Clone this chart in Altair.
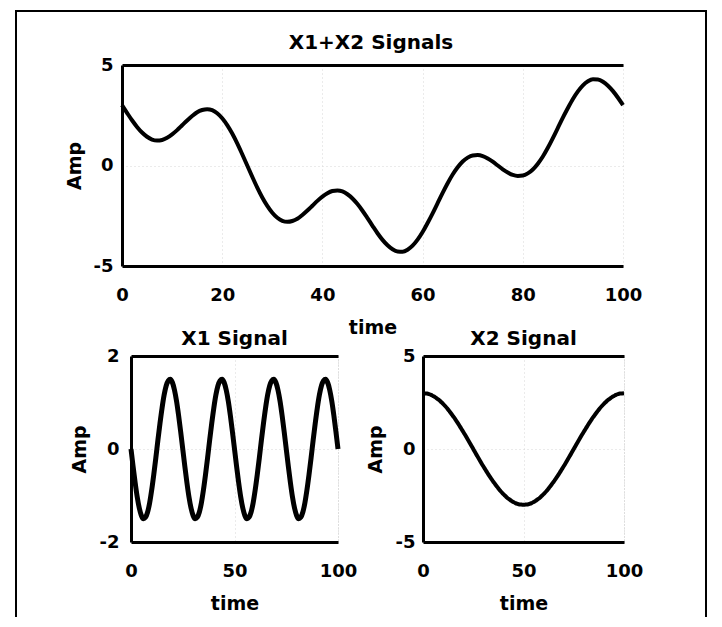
import altair as alt
import pandas as pd

# ---- data ----
time = list(range(101))

x1_signal = [
    0.00, -0.37, -0.72, -1.03, -1.27, -1.43, -1.50, -1.47, -1.36, -1.16, -0.88, -0.55, -0.19,
    0.19, 0.55, 0.88, 1.16, 1.36, 1.47, 1.50, 1.43, 1.27, 1.03, 0.72, 0.37,
    0.00, -0.37, -0.72, -1.03, -1.27, -1.43, -1.50, -1.47, -1.36, -1.16, -0.88, -0.55, -0.19,
    0.19, 0.55, 0.88, 1.16, 1.36, 1.47, 1.50, 1.43, 1.27, 1.03, 0.72, 0.37,
    0.00, -0.37, -0.72, -1.03, -1.27, -1.43, -1.50, -1.47, -1.36, -1.16, -0.88, -0.55, -0.19,
    0.19, 0.55, 0.88, 1.16, 1.36, 1.47, 1.50, 1.43, 1.27, 1.03, 0.72, 0.37,
    0.00, -0.37, -0.72, -1.03, -1.27, -1.43, -1.50, -1.47, -1.36, -1.16, -0.88, -0.55, -0.19,
    0.19, 0.55, 0.88, 1.16, 1.36, 1.47, 1.50, 1.43, 1.27, 1.03, 0.72, 0.37,
    0.00,
]

x2_signal = [
    3.00, 2.99, 2.98, 2.95, 2.91, 2.85, 2.79, 2.71, 2.63, 2.53, 2.43, 2.31, 2.19, 2.05, 1.91,
    1.76, 1.61, 1.45, 1.28, 1.10, 0.93, 0.75, 0.56, 0.38, 0.19, 0.00,
    -0.19, -0.38, -0.56, -0.75, -0.93, -1.10, -1.28, -1.45, -1.61, -1.76, -1.91, -2.05, -2.19,
    -2.31, -2.43, -2.53, -2.63, -2.71, -2.79, -2.85, -2.91, -2.95, -2.98, -2.99, -3.00,
    -2.99, -2.98, -2.95, -2.91, -2.85, -2.79, -2.71, -2.63, -2.53, -2.43, -2.31, -2.19, -2.05,
    -1.91, -1.76, -1.61, -1.45, -1.28, -1.10, -0.93, -0.75, -0.56, -0.38, -0.19, 0.00,
    0.19, 0.38, 0.56, 0.75, 0.93, 1.10, 1.28, 1.45, 1.61, 1.76, 1.91, 2.05, 2.19, 2.31, 2.43,
    2.53, 2.63, 2.71, 2.79, 2.85, 2.91, 2.95, 2.98, 2.99, 3.00,
]

sum_signal = [
    3.00, 2.62, 2.25, 1.92, 1.64, 1.43, 1.29, 1.24, 1.27, 1.38, 1.55, 1.76, 2.00, 2.24, 2.46,
    2.65, 2.76, 2.80, 2.75, 2.60, 2.35, 2.01, 1.59, 1.10, 0.56, 0.00,
    -0.56, -1.10, -1.59, -2.01, -2.35, -2.60, -2.75, -2.80, -2.76, -2.65, -2.46, -2.24, -2.00,
    -1.76, -1.55, -1.38, -1.27, -1.24, -1.29, -1.43, -1.64, -1.92, -2.25, -2.62, -3.00,
    -3.37, -3.70, -3.97, -4.17, -4.28, -4.29, -4.19, -3.99, -3.69, -3.31, -2.86, -2.38, -1.87,
    -1.36, -0.88, -0.45, -0.09, 0.20, 0.39, 0.50, 0.52, 0.47, 0.35, 0.19, 0.00,
    -0.19, -0.35, -0.47, -0.52, -0.50, -0.39, -0.20, 0.09, 0.45, 0.88, 1.36, 1.87, 2.38, 2.86,
    3.31, 3.69, 3.99, 4.19, 4.29, 4.28, 4.17, 3.97, 3.70, 3.37, 3.00,
]

titles = ["X1+X2 Signals", "X1 Signal", "X2 Signal"]
x_ticks_top = [0, 20, 40, 60, 80, 100]
x_ticks_bottom = [0, 50, 100]
y_ticks_sum = [-5, 0, 5]
y_ticks_x1 = [-2, 0, 2]
y_ticks_x2 = [-5, 0, 5]

FONT = "DejaVu Sans"
LABEL = "replace(datum.label, '\u2212', '-')"


def panel(values, title, ydom, yticks, xticks, w, h, sw,
          xrange=None, yoffset=0, title_dx=0, title_offset=1,
          ylabel_pad=9, ytitle_pad=6):
    df = pd.DataFrame({"time": time, "amp": values})
    if xrange is None:
        sx = alt.Scale(domain=[0, 100], nice=False, zero=False)
    else:
        sx = alt.Scale(domain=[0, 100], nice=False, zero=False, range=xrange)
    sy = alt.Scale(domain=ydom, nice=False, zero=False)
    yenc = alt.Y("amp:Q", scale=sy,
                 axis=alt.Axis(values=yticks, title="Amp", offset=yoffset, labelExpr=LABEL,
                               labelPadding=ylabel_pad, titlePadding=ytitle_pad))
    line = alt.Chart(df).mark_line(
        color="black", strokeWidth=sw, interpolate="monotone", clip=False
    ).encode(
        x=alt.X("time:Q", scale=sx, axis=alt.Axis(values=xticks, title="time", labelExpr=LABEL)),
        y=yenc,
    )
    topax = alt.Chart(df).mark_line(strokeOpacity=0).encode(
        x=alt.X("time:Q", scale=sx,
                axis=alt.Axis(orient="top", labels=False, grid=False, title=None,
                              labelPadding=0, minExtent=0, maxExtent=0)),
        y=yenc,
    )
    return alt.layer(line, topax).resolve_axis(x="independent").properties(
        width=w, height=h,
        title=alt.TitleParams(title, font=FONT, fontSize=20, fontWeight="bold",
                              color="black", anchor="middle", frame="group",
                              baseline="alphabetic", offset=title_offset, dx=title_dx),
    )


# outer page frame of the scanned figure (decoration only: left, top and right edges)
one = pd.DataFrame({"a": [0]})
edge = dict(color="black", strokeWidth=2)
frame_left = alt.Chart(one).mark_rule(**edge).encode(
    x=alt.value(-115), y=alt.value(0), y2=alt.value(606))
frame_top = alt.Chart(one).mark_rule(**edge).encode(
    x=alt.value(-116), x2=alt.value(576), y=alt.value(0))
frame_right = alt.Chart(one).mark_rule(**edge).encode(
    x=alt.value(575), y=alt.value(0), y2=alt.value(606))
frame = alt.layer(frame_left, frame_top, frame_right).properties(width=1, height=1)

top = panel(sum_signal, titles[0], [-5, 5], y_ticks_sum, x_ticks_top, 492, 201, 4,
            xrange=[-9, 492], yoffset=9, title_dx=-6, title_offset=-13,
            ylabel_pad=9, ytitle_pad=9)
bl = panel(x1_signal, titles[1], [-2, 2], y_ticks_x1, x_ticks_bottom, 207, 186, 5,
           title_offset=-18, ylabel_pad=12, ytitle_pad=10).properties(
    view=alt.ViewBackground(stroke="#c8c8c8", strokeDash=[1, 2]))
br = panel(x2_signal, titles[2], [-5, 5], y_ticks_x2, x_ticks_bottom, 201, 186, 4,
           title_offset=-18, ylabel_pad=8, ytitle_pad=10).properties(
    view=alt.ViewBackground(stroke="#c8c8c8", strokeDash=[1, 2]))

bottom = alt.hconcat(bl, br, spacing=85, bounds="flush")
plots = alt.vconcat(top, bottom, spacing=90, bounds="flush")
chart = alt.vconcat(frame, plots, spacing=53, bounds="flush").properties(
    padding={"left": 5, "top": 1, "right": 0, "bottom": 0},
    background="white",
).configure_view(
    stroke="transparent"
).configure_axis(
    labelFont=FONT, labelFontSize=18, labelFontWeight="bold", labelColor="black",
    titleFont=FONT, titleFontSize=19, titleFontWeight="bold", titleColor="black",
    labelPadding=9, titlePadding=6, labelFlush=False,
    domainColor="black", domainWidth=3, ticks=False, tickSize=0,
    grid=True, gridColor="#d6d6d6", gridDash=[1, 3], gridWidth=1,
).configure_axisX(
    labelPadding=20, titlePadding=14,
)

chart.save("out.html", embed_options={"renderer": "svg", "actions": False})
